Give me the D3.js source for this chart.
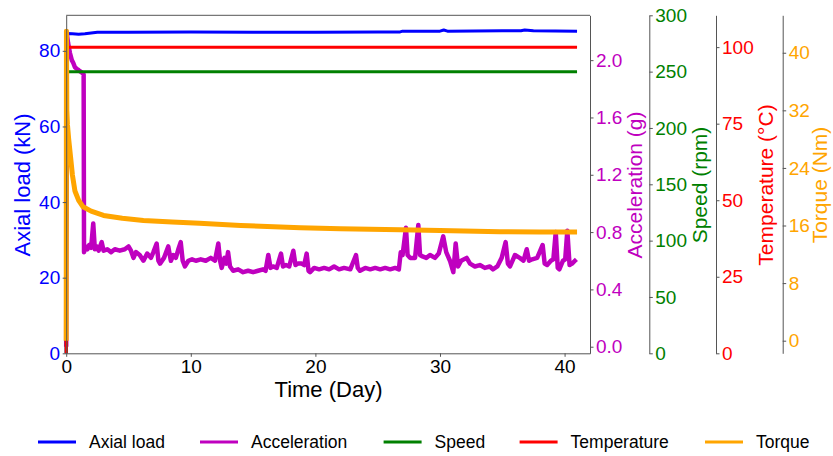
<!DOCTYPE html>
<html lang="en">
<head>
<meta charset="UTF-8">
<title>Bearing test</title>
<script src="https://cdn.jsdelivr.net/npm/d3@7/dist/d3.min.js"></script>
<style>
    body { margin: 0; background: #fff; }
    svg { font-family: "Liberation Sans", Arial, sans-serif; }
    .axis path, .axis line { stroke: #555; stroke-width: 1; }
</style>
</head>
<body>
<div id="chart"></div>
<script>
const width = 833;
const height = 456;
const plot = { left: 66.2, right: 590, top: 15.3, bottom: 353.3 };

// [day, value]
const axialLoad = [[0, 0], [0.03, 84.6], [0.5, 84.5], [1.0, 84.4], [1.5, 84.5], [2.0, 84.7], [2.5, 84.9],
    [5, 84.9], [10, 85.0], [15, 84.9], [20, 84.9], [25, 85.0], [26.8, 85.0], [27, 85.2], [30, 85.2],
    [30.3, 85.5], [30.6, 85.2], [35, 85.3], [36.5, 85.3], [36.8, 85.5], [37.5, 85.3], [41, 85.2]];

const acceleration = [[0, 0], [0.03, 2.2], [0.15, 2.12], [0.30, 2.05], [0.45, 2.0], [0.57, 1.98], [0.70, 1.95],
    [0.84, 1.94], [1.0, 1.93], [1.15, 1.92], [1.30, 1.91], [1.40, 1.90], [1.43, 0.66], [1.55, 0.70],
    [1.7, 0.68], [1.85, 0.71], [2.0, 0.69], [2.17, 0.86], [2.3, 0.68], [2.45, 0.70], [2.6, 0.67],
    [2.85, 0.73], [3.0, 0.67], [3.3, 0.68], [3.6, 0.66], [3.9, 0.68], [4.3, 0.67], [4.7, 0.68],
    [5.0, 0.70], [5.2, 0.67], [5.4, 0.62], [5.6, 0.66], [5.9, 0.64], [6.2, 0.60], [6.5, 0.65],
    [6.8, 0.62], [7.0, 0.66], [7.26, 0.72], [7.4, 0.60], [7.53, 0.58], [7.85, 0.62], [8.19, 0.70],
    [8.4, 0.60], [8.6, 0.64], [8.8, 0.62], [9.0, 0.68], [9.19, 0.73], [9.35, 0.60], [9.53, 0.56],
    [9.8, 0.60], [10.1, 0.61], [10.4, 0.60], [10.8, 0.61], [11.2, 0.60], [11.6, 0.62], [11.94, 0.60],
    [12.21, 0.72], [12.35, 0.60], [12.48, 0.55], [12.7, 0.62], [12.85, 0.58], [12.99, 0.66],
    [13.15, 0.56], [13.4, 0.53], [13.8, 0.54], [14.2, 0.52], [14.6, 0.53], [15.0, 0.52], [15.4, 0.53],
    [15.8, 0.54], [16.0, 0.53], [16.22, 0.64], [16.4, 0.55], [16.6, 0.56], [16.9, 0.55], [17.24, 0.65],
    [17.4, 0.56], [17.64, 0.57], [17.9, 0.56], [18.23, 0.67], [18.4, 0.57], [18.6, 0.58], [18.9, 0.58],
    [19.1, 0.57], [19.3, 0.65], [19.45, 0.53], [19.57, 0.52], [19.9, 0.55], [20.3, 0.54], [20.7, 0.55],
    [21.1, 0.54], [21.5, 0.56], [21.9, 0.54], [22.3, 0.55], [22.8, 0.54], [23.26, 0.64], [23.4, 0.55],
    [23.58, 0.53], [24.0, 0.55], [24.4, 0.54], [24.8, 0.55], [25.2, 0.54], [25.6, 0.55], [26.0, 0.54],
    [26.4, 0.55], [26.7, 0.54], [26.85, 0.66], [27.0, 0.64], [27.27, 0.83], [27.4, 0.64], [27.6, 0.62],
    [28.0, 0.62], [28.26, 0.85], [28.4, 0.64], [28.6, 0.63], [28.9, 0.62], [29.2, 0.64], [29.6, 0.62],
    [29.9, 0.65], [30.26, 0.77], [30.5, 0.66], [30.8, 0.60], [31.07, 0.52], [31.26, 0.72], [31.45, 0.56],
    [31.7, 0.60], [32.14, 0.62], [32.41, 0.58], [32.8, 0.56], [33.2, 0.57], [33.6, 0.55], [34.0, 0.56],
    [34.25, 0.54], [34.6, 0.56], [34.95, 0.62], [35.27, 0.73], [35.45, 0.58], [35.62, 0.56], [36.02, 0.64],
    [36.4, 0.62], [36.7, 0.60], [36.96, 0.68], [37.15, 0.60], [37.4, 0.61], [37.8, 0.62], [38.24, 0.71],
    [38.4, 0.58], [38.6, 0.57], [38.9, 0.60], [39.1, 0.61], [39.29, 0.80], [39.45, 0.55], [39.58, 0.54],
    [39.87, 0.60], [40.05, 0.61], [40.22, 0.81], [40.4, 0.57], [40.6, 0.58], [40.83, 0.60], [40.95, 0.61]];

const speed = [[0, 0], [0.08, 250], [41, 250]];
const temperature = [[0, 0], [0.08, 100], [41, 100]];

const torque = [[0, 0], [0.02, 43], [0.05, 32], [0.1, 30], [0.2, 28], [0.35, 25.5], [0.5, 23], [0.7, 20.8],
    [1.0, 19.5], [1.35, 18.6], [2.0, 18.0], [3.0, 17.4], [4.5, 17.0], [6.2, 16.7], [8.5, 16.5],
    [10.7, 16.3], [14, 16.0], [18.8, 15.7], [22, 15.55], [26.8, 15.4], [30, 15.3], [34.8, 15.15],
    [38, 15.1], [41, 15.1]];

const timeTicks = [0, 10, 20, 30, 40];
const loadTicks = [0, 20, 40, 60, 80];
const accTicks = [0, 0.4, 0.8, 1.2, 1.6, 2.0];
const speedTicks = [0, 50, 100, 150, 200, 250, 300];
const tempTicks = [0, 25, 50, 75, 100];
const torqueTicks = [0, 8, 16, 24, 32, 40];

const names = ['Axial load', 'Acceleration', 'Speed', 'Temperature', 'Torque'];
const colors = ['#0000ff', '#bf00bf', '#008000', '#ff0000', '#ffa500'];

const svg = d3.select('#chart').append('svg')
    .attr('width', width)
    .attr('height', height);

svg.append('rect').attr('width', width).attr('height', height).attr('fill', '#fff');

// scales
const x = d3.scaleLinear().domain([0, 42.04]).range([plot.left, plot.right]);
const yRange = [plot.bottom, plot.top];
const yLoad = d3.scaleLinear().domain([0, 89.4]).range(yRange);
const yAcc = d3.scaleLinear().domain([-0.046, 2.313]).range(yRange);
const ySpeed = d3.scaleLinear().domain([0, 300]).range(yRange);
const yTemp = d3.scaleLinear().domain([0, 110.4]).range(yRange);
const yTorque = d3.scaleLinear().domain([-1.75, 45.2]).range(yRange);

// lines
const series = [
    { data: axialLoad, y: yLoad, w: 3 },
    { data: acceleration, y: yAcc, w: 4.5 },
    { data: speed, y: ySpeed, w: 3 },
    { data: temperature, y: yTemp, w: 3 },
    { data: torque, y: yTorque, w: 5 }
];
series.forEach(function(s, i) {
    const line = d3.line().x(d => x(d[0])).y(d => s.y(d[1]));
    svg.append('path')
        .attr('d', line(s.data))
        .attr('fill', 'none')
        .attr('stroke', colors[i])
        .attr('stroke-width', s.w)
        .attr('stroke-linejoin', 'round');
});

// top spine
svg.append('line')
    .attr('x1', plot.left).attr('x2', plot.right)
    .attr('y1', plot.top).attr('y2', plot.top)
    .attr('stroke', '#555');

// axes
function styleAxis(g, color) {
    g.attr('class', 'axis');
    g.selectAll('text').attr('fill', color).style('font-size', '19px');
}

svg.append('g')
    .attr('transform', `translate(0,${plot.bottom})`)
    .call(d3.axisBottom(x).tickValues(timeTicks).tickSize(3.5).tickSizeOuter(0).tickPadding(3))
    .call(g => styleAxis(g, '#000'));

svg.append('g')
    .attr('transform', `translate(${plot.left},0)`)
    .call(d3.axisLeft(yLoad).tickValues(loadTicks).tickSize(3.5).tickSizeOuter(0).tickPadding(2.5))
    .call(g => styleAxis(g, colors[0]));

const rightAxes = [
    { pos: plot.right, scale: yAcc, ticks: accTicks, fmt: d3.format('.1f'), color: colors[1] },
    { pos: 649.3, scale: ySpeed, ticks: speedTicks, fmt: d3.format('d'), color: colors[2] },
    { pos: 716, scale: yTemp, ticks: tempTicks, fmt: d3.format('d'), color: colors[3] },
    { pos: 782.7, scale: yTorque, ticks: torqueTicks, fmt: d3.format('d'), color: colors[4] }
];
rightAxes.forEach(function(a) {
    svg.append('g')
        .attr('transform', `translate(${a.pos},0)`)
        .call(d3.axisRight(a.scale).tickValues(a.ticks).tickFormat(a.fmt)
            .tickSize(3.5).tickSizeOuter(0).tickPadding(2.5))
        .call(g => styleAxis(g, a.color));
});

// axis titles (bx = baseline x after rotation)
const titles = [
    { text: 'Axial load (kN)', bx: 30, size: 22, color: colors[0] },
    { text: 'Acceleration (g)', bx: 642, size: 21, color: colors[1] },
    { text: 'Speed (rpm)', bx: 707, size: 21, color: colors[2] },
    { text: 'Temperature (°C)', bx: 773, size: 21, color: colors[3] },
    { text: 'Torque (Nm)', bx: 827, size: 21, color: colors[4] }
];
titles.forEach(function(t) {
    svg.append('text')
        .attr('transform', `translate(${t.bx},185) rotate(-90)`)
        .attr('text-anchor', 'middle')
        .attr('fill', t.color)
        .style('font-size', t.size + 'px')
        .text(t.text);
});

svg.append('text')
    .attr('x', 328.5)
    .attr('y', 397)
    .attr('text-anchor', 'middle')
    .style('font-size', '22px')
    .text('Time (Day)');

// legend
const legendX = [38, 200, 383.6, 519.6, 705];
const legend = svg.append('g');
names.forEach(function(n, i) {
    legend.append('line')
        .attr('x1', legendX[i]).attr('x2', legendX[i] + 38)
        .attr('y1', 442).attr('y2', 442)
        .attr('stroke', colors[i])
        .attr('stroke-width', 3);
    legend.append('text')
        .attr('x', legendX[i] + 51)
        .attr('y', 448)
        .style('font-size', '17.5px')
        .text(n);
});
</script>
</body>
</html>
